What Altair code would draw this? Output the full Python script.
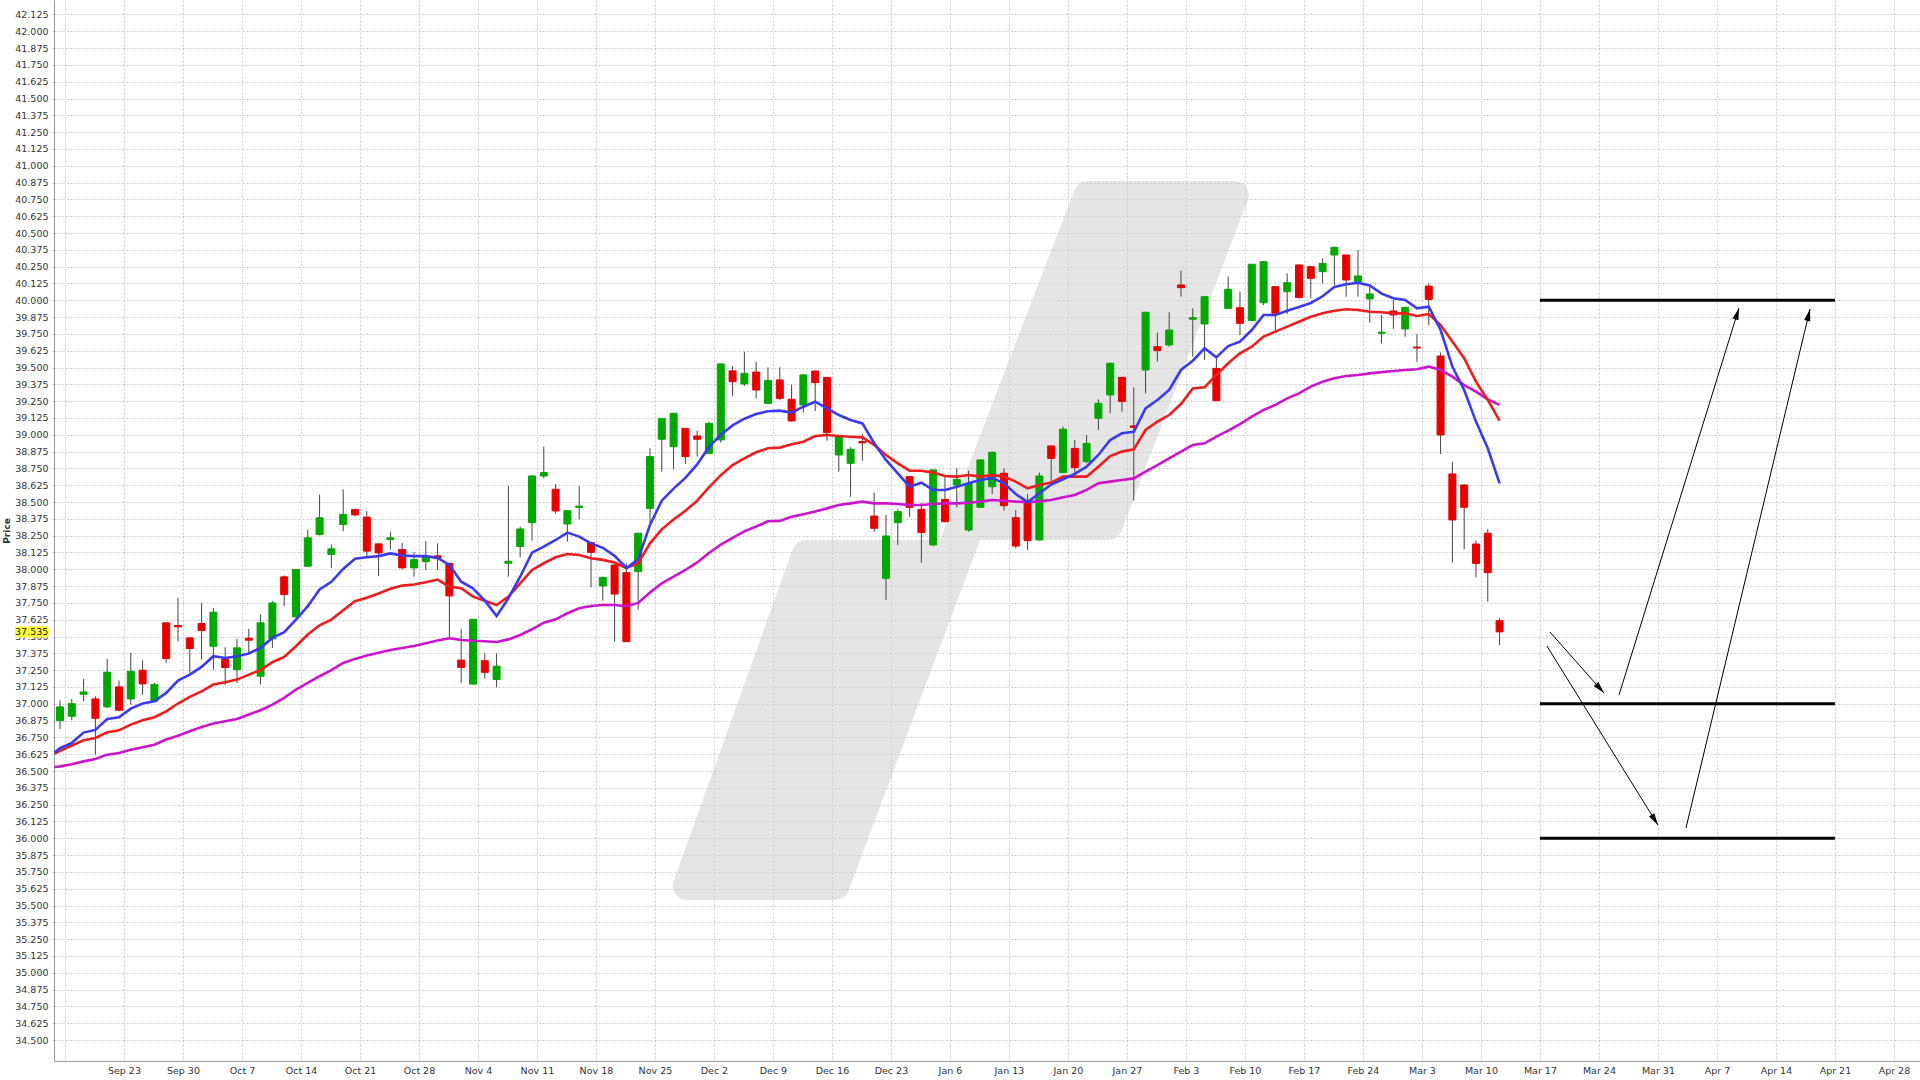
import math
import altair as alt
import pandas as pd

# ---------------- candles: one per trading day (slot 0..122) ----------------
opens = [36.875, 36.907, 37.071, 37.036, 36.977, 37.126, 37.036, 37.250, 37.019, 37.602,
         37.582, 37.490, 37.597, 37.428, 37.330, 37.254, 37.488, 37.205, 37.483, 37.944,
         37.646, 38.023, 38.259, 38.110, 38.333, 38.445, 38.388, 38.189, 38.222, 38.147,
         38.011, 38.057, 38.100, 38.044, 37.325, 37.147, 37.320, 37.181, 38.045, 38.169,
         38.347, 38.694, 38.595, 38.337, 38.460, 38.198, 37.876, 38.032, 37.975, 37.983,
         38.453, 38.967, 38.912, 39.048, 38.991, 38.862, 38.962, 39.475, 39.378, 39.467,
         39.234, 39.408, 39.264, 39.222, 39.474, 39.427, 38.850, 38.788, 38.950, 38.396,
         37.933, 38.347, 38.689, 38.446, 38.181, 38.520, 38.627, 38.292, 38.461, 38.614,
         38.714, 38.384, 38.495, 38.218, 38.917, 38.719, 38.899, 38.800, 39.123, 39.296,
         39.427, 39.066, 39.482, 39.655, 39.668, 40.114, 39.859, 39.824, 39.494, 39.940,
         39.945, 39.849, 39.982, 40.101, 40.064, 40.263, 40.250, 40.213, 40.337, 40.337,
         40.139, 40.010, 39.755, 39.921, 39.787, 39.652, 40.106, 39.586, 38.709, 38.627,
         38.188, 38.268, 37.618]
highs = [37.026, 37.036, 37.185, 37.056, 37.334, 37.173, 37.378, 37.324, 37.155, 37.602,
         37.788, 37.495, 37.750, 37.713, 37.420, 37.483, 37.557, 37.664, 37.763, 37.954,
         38.003, 38.296, 38.556, 38.184, 38.594, 38.450, 38.433, 38.190, 38.279, 38.197,
         38.127, 38.210, 38.193, 38.050, 37.554, 37.630, 37.376, 37.376, 38.620, 38.317,
         38.700, 38.912, 38.632, 38.440, 38.620, 38.200, 37.945, 38.040, 38.044, 38.270,
         38.900, 39.125, 39.160, 39.050, 39.031, 39.098, 39.530, 39.512, 39.618, 39.541,
         39.502, 39.502, 39.370, 39.452, 39.478, 39.430, 38.990, 38.907, 39.006, 38.570,
         38.404, 38.446, 38.690, 38.495, 38.740, 38.689, 38.751, 38.733, 38.815, 38.875,
         38.751, 38.441, 38.560, 38.719, 38.920, 39.061, 38.961, 38.999, 39.264, 39.535,
         39.430, 39.353, 39.915, 39.760, 39.911, 40.221, 39.940, 40.030, 39.576, 40.176,
         40.064, 40.270, 40.290, 40.105, 40.201, 40.265, 40.255, 40.312, 40.400, 40.340,
         40.374, 40.106, 39.891, 40.002, 39.950, 39.750, 40.126, 39.611, 38.800, 38.630,
         38.213, 38.297, 37.636]
lows = [36.813, 36.878, 37.019, 36.622, 36.969, 36.944, 36.994, 37.068, 37.014, 37.304,
        37.465, 37.230, 37.329, 37.254, 37.140, 37.155, 37.378, 37.143, 37.416, 37.726,
        37.646, 38.018, 38.251, 38.011, 38.284, 38.395, 38.098, 37.949, 38.147, 37.998,
        37.945, 37.995, 37.995, 37.494, 37.157, 37.145, 37.187, 37.122, 37.945, 38.089,
        38.213, 38.676, 38.416, 38.206, 38.372, 37.866, 37.767, 37.462, 37.460, 37.702,
        38.347, 38.726, 38.743, 38.783, 38.838, 38.860, 38.942, 39.289, 39.363, 39.271,
        39.229, 39.259, 39.098, 39.165, 39.177, 38.956, 38.726, 38.540, 38.808, 38.280,
        37.772, 38.181, 38.391, 38.049, 38.173, 38.350, 38.461, 38.280, 38.460, 38.560,
        38.436, 38.156, 38.144, 38.215, 38.652, 38.715, 38.689, 38.788, 39.036, 39.160,
        39.172, 38.510, 39.308, 39.544, 39.655, 40.027, 39.581, 39.556, 39.250, 39.937,
        39.742, 39.845, 39.965, 39.779, 39.898, 40.015, 40.015, 40.126, 40.114, 40.027,
        40.027, 39.834, 39.680, 39.787, 39.730, 39.544, 39.816, 38.857, 38.049, 38.149,
        37.940, 37.759, 37.437]
closes = [36.977, 37.001, 37.088, 36.892, 37.235, 36.952, 37.242, 37.148, 37.143, 37.336,
          37.572, 37.411, 37.545, 37.681, 37.270, 37.416, 37.473, 37.602, 37.750, 37.812,
          37.998, 38.234, 38.383, 38.152, 38.408, 38.405, 38.135, 38.122, 38.234, 38.011,
          38.072, 38.092, 38.080, 37.802, 37.271, 37.628, 37.234, 37.280, 38.060, 38.300,
          38.694, 38.719, 38.434, 38.436, 38.470, 38.126, 37.940, 37.816, 37.462, 38.268,
          38.838, 39.122, 39.160, 38.838, 38.967, 39.085, 39.527, 39.395, 39.457, 39.333,
          39.403, 39.271, 39.103, 39.445, 39.388, 39.016, 38.986, 38.892, 38.940, 38.305,
          38.248, 38.429, 38.461, 38.273, 38.739, 38.354, 38.669, 38.634, 38.813, 38.870,
          38.473, 38.173, 38.213, 38.694, 38.825, 39.041, 38.756, 38.936, 39.234, 39.532,
          39.247, 39.056, 39.911, 39.626, 39.779, 40.094, 39.871, 40.027, 39.254, 40.082,
          39.829, 40.268, 40.287, 39.903, 40.131, 40.020, 40.163, 40.275, 40.394, 40.151,
          40.181, 40.047, 39.763, 39.891, 39.948, 39.645, 40.007, 38.999, 38.367, 38.461,
          38.044, 37.975, 37.535]

# ---------------- moving averages ----------------
ma_slots = [-0.45] + list(range(123))
ma_fast = [36.64, 36.67, 36.71, 36.786, 36.806, 36.887, 36.900, 36.964, 37.002, 37.019, 37.081,
           37.173, 37.217, 37.274, 37.354, 37.341, 37.354, 37.374, 37.416, 37.490, 37.532,
           37.626, 37.726, 37.850, 37.907, 38.003, 38.078, 38.090, 38.098, 38.118, 38.103,
           38.098, 38.098, 38.085, 38.032, 37.908, 37.859, 37.767, 37.653, 37.784, 37.945,
           38.124, 38.168, 38.218, 38.273, 38.243, 38.193, 38.160, 38.100, 38.010, 38.075,
           38.330, 38.510, 38.600, 38.680, 38.780, 38.910, 39.000, 39.070, 39.120, 39.155,
           39.175, 39.180, 39.165, 39.209, 39.246, 39.197, 39.147, 39.110, 39.085, 38.937,
           38.813, 38.714, 38.614, 38.644, 38.590, 38.590, 38.614, 38.639, 38.664, 38.680,
           38.639, 38.560, 38.500, 38.565, 38.630, 38.670, 38.710, 38.763, 38.850, 38.961,
           39.011, 39.023, 39.197, 39.259, 39.333, 39.482, 39.551, 39.643, 39.576, 39.660,
           39.693, 39.779, 39.891, 39.891, 39.923, 39.950, 39.980, 40.030, 40.100, 40.120,
           40.130, 40.110, 40.050, 40.015, 40.002, 39.940, 39.953, 39.779, 39.507, 39.333,
           39.098, 38.900, 38.639]
ma_mid = [36.63, 36.65, 36.69, 36.729, 36.746, 36.788, 36.803, 36.845, 36.878, 36.900, 36.944,
          37.002, 37.051, 37.093, 37.143, 37.160, 37.180, 37.217, 37.250, 37.309, 37.349,
          37.428, 37.515, 37.584, 37.626, 37.696, 37.763, 37.788, 37.820, 37.855, 37.879,
          37.887, 37.904, 37.924, 37.871, 37.859, 37.797, 37.767, 37.735, 37.797, 37.896,
          37.995, 38.045, 38.089, 38.114, 38.107, 38.082, 38.070, 38.050, 38.010, 38.045,
          38.193, 38.297, 38.370, 38.435, 38.510, 38.610, 38.700, 38.775, 38.825, 38.870,
          38.900, 38.905, 38.930, 38.949, 38.991, 38.998, 38.991, 38.986, 38.981, 38.924,
          38.850, 38.788, 38.733, 38.733, 38.719, 38.694, 38.689, 38.701, 38.689, 38.700,
          38.689, 38.652, 38.602, 38.627, 38.645, 38.689, 38.690, 38.689, 38.763, 38.842,
          38.875, 38.892, 39.036, 39.098, 39.147, 39.229, 39.345, 39.353, 39.445, 39.532,
          39.606, 39.655, 39.730, 39.767, 39.804, 39.841, 39.878, 39.903, 39.923, 39.933,
          39.928, 39.915, 39.911, 39.903, 39.903, 39.883, 39.898, 39.816, 39.693, 39.569,
          39.395, 39.259, 39.105]
ma_slow = [36.53, 36.535, 36.55, 36.572, 36.590, 36.622, 36.634, 36.659, 36.677, 36.696, 36.734,
           36.763, 36.796, 36.828, 36.853, 36.870, 36.887, 36.920, 36.952, 36.994, 37.044,
           37.106, 37.155, 37.205, 37.250, 37.304, 37.334, 37.360, 37.380, 37.400, 37.415,
           37.430, 37.450, 37.470, 37.487, 37.474, 37.469, 37.465, 37.460, 37.479, 37.512,
           37.554, 37.603, 37.628, 37.673, 37.710, 37.727, 37.735, 37.735, 37.725, 37.750,
           37.828, 37.896, 37.945, 37.995, 38.051, 38.121, 38.183, 38.233, 38.282, 38.318,
           38.357, 38.360, 38.390, 38.410, 38.430, 38.453, 38.478, 38.490, 38.503, 38.490,
           38.490, 38.486, 38.478, 38.478, 38.486, 38.490, 38.490, 38.495, 38.503, 38.515,
           38.510, 38.503, 38.500, 38.505, 38.515, 38.535, 38.553, 38.590, 38.640, 38.652,
           38.664, 38.676, 38.726, 38.775, 38.825, 38.875, 38.924, 38.937, 38.986, 39.031,
           39.080, 39.135, 39.185, 39.222, 39.271, 39.308, 39.358, 39.395, 39.420, 39.437,
           39.445, 39.457, 39.466, 39.475, 39.482, 39.487, 39.507, 39.482, 39.432, 39.370,
           39.321, 39.264, 39.222]

# ---------------- axis ticks ----------------
week_labels = ["", "Sep 23", "Sep 30", "Oct 7", "Oct 14", "Oct 21", "Oct 28", "Nov 4",
               "Nov 11", "Nov 18", "Nov 25", "Dec 2", "Dec 9", "Dec 16", "Dec 23", "Jan 6",
               "Jan 13", "Jan 20", "Jan 27", "Feb 3", "Feb 10", "Feb 17", "Feb 24", "Mar 3",
               "Mar 10", "Mar 17", "Mar 24", "Mar 31", "Apr 7", "Apr 14", "Apr 21", "Apr 28"]
week_first_slot = 0.42
price_ticks = [round(34.5 + 0.125 * k, 3) for k in range(62)]
last_price = 37.535

# ---------------- drawn annotations on the right ----------------
level_prices = [40.0, 37.0, 36.0]
level_start = [125.42, 125.42, 125.42]
level_end = [150.42, 150.42, 150.42]
arrow_x0 = [126.27, 126.02, 132.12, 137.80]
arrow_y0 = [37.534, 37.429, 37.065, 36.077]
arrow_x1 = [130.85, 135.42, 142.29, 148.31]
arrow_y1 = [37.080, 36.099, 39.943, 39.935]

# ---------------- background watermark (two offset slanted bands) ----------------
wm_prices = [40.887, 38.218, 35.541]          # top, step, bottom
wm_upper = [86.27, 101.27, 74.58, 89.66]      # top-left, top-right, bottom-left, bottom-right
wm_lower = [62.37, 77.97, 51.44, 66.53]

# ---------------- layout ----------------
W, H = 1866, 1061
X_DOM = [-0.508, 157.63]
Y_DOM = [34.3443, 42.2328]
PX_X = W / (X_DOM[1] - X_DOM[0])
PX_Y = H / (Y_DOM[1] - Y_DOM[0])
FONT = "DejaVu Sans"
GRID = "#c8c8c8"

x_scale = alt.Scale(domain=X_DOM, nice=False, zero=False, padding=0)
y_scale = alt.Scale(domain=Y_DOM, nice=False, zero=False, padding=0)

x_ticks = [week_first_slot + 5 * k for k in range(len(week_labels))]
label_expr = ("[" + ",".join("'%s'" % s for s in week_labels) + "]"
              "[round((datum.value - %s) / 5)]" % week_first_slot)

x_axis = alt.Axis(values=x_ticks, labelExpr=label_expr, title=None, grid=True,
                  gridColor=GRID, gridDash=[2, 2], gridWidth=1, domainColor="#9a9a9a",
                  tickSize=0, labelPadding=4, labelFont=FONT, labelFontSize=9.5,
                  labelColor="#333333", labelFlush=False, labelOverlap=False)
y_axis = alt.Axis(values=price_ticks, format=".3f", title="Price", grid=True,
                  gridColor=GRID, gridDash=[2, 2], gridWidth=1, domainColor="#9a9a9a",
                  tickSize=4, tickColor=GRID, tickDash=[2, 2], labelPadding=2,
                  labelFont=FONT, labelFontSize=9.5, labelColor="#333333",
                  labelOverlap=False, titleFont=FONT, titleFontSize=9,
                  titleFontWeight="bold", titleColor="#333333", titlePadding=3)


def X(f):
    return alt.X(f, type="quantitative", scale=x_scale, axis=x_axis)


def Y(f):
    return alt.Y(f, type="quantitative", scale=y_scale, axis=y_axis)


# candles
cdf = pd.DataFrame({"slot": list(range(len(opens))), "open": opens, "high": highs,
                    "low": lows, "close": closes})
up = cdf[cdf["close"] >= cdf["open"]]
dn = cdf[cdf["close"] < cdf["open"]]
GREEN, RED = "#00a800", "#e60000"

wicks = alt.Chart(cdf).mark_rule(color="#444444", strokeWidth=1).encode(
    x=X("slot"), y=Y("low"), y2="high")
bodies_up = alt.Chart(up).mark_bar(size=7, color=GREEN, stroke=GREEN, strokeWidth=1).encode(
    x=X("slot"), y=Y("open"), y2="close")
bodies_dn = alt.Chart(dn).mark_bar(size=7, color=RED, stroke=RED, strokeWidth=1).encode(
    x=X("slot"), y=Y("open"), y2="close")


def ma_layer(vals, color):
    d = pd.DataFrame({"slot": ma_slots, "val": vals})
    return alt.Chart(d).mark_line(color=color, strokeWidth=2.6).encode(
        x=X("slot"), y=Y("val"), order="slot:Q")


ma_s = ma_layer(ma_slow, "#cc14cc")
ma_m = ma_layer(ma_mid, "#ee1d1d")
ma_f = ma_layer(ma_fast, "#3a3aef")

# watermark polygon with rounded corners (inset + round-joined stroke)
R = 14.0
px = lambda s: (s - X_DOM[0]) * PX_X
py = lambda p: (Y_DOM[1] - p) * PX_Y
ys = [py(p) for p in wm_prices]


def edge(xa, ya, xb, yb, sign):
    s = (xb - xa) / (yb - ya)
    d = sign * R * math.sqrt(1 + s * s)
    return lambda y: xa + s * (y - ya) + d


ul = edge(px(wm_upper[0]), ys[0], px(wm_upper[2]), ys[1], 1)
ur = edge(px(wm_upper[1]), ys[0], px(wm_upper[3]), ys[1], -1)
ll = edge(px(wm_lower[0]), ys[1], px(wm_lower[2]), ys[2], 1)
lr = edge(px(wm_lower[1]), ys[1], px(wm_lower[3]), ys[2], -1)
e = 0.01
rows = [(ys[0] + R, ul, ur), (ys[1] - R - e, ul, ur), (ys[1] - R + e, ul, lr),
        (ys[1] + R - e, ul, lr), (ys[1] + R + e, ll, lr), (ys[2] - R, ll, lr)]
wm_rows = []
for yy, fl, fr in rows:
    a, b = fl(yy), fr(yy)
    if a > b:
        a = b = (a + b) / 2
    wm_rows.append({"p": Y_DOM[1] - yy / PX_Y, "a": X_DOM[0] + a / PX_X,
                    "b": X_DOM[0] + b / PX_X})
wm_df = pd.DataFrame(wm_rows)
WM = "#cdcdcd"
watermark = alt.Chart(wm_df).mark_area(
    orient="horizontal", color=WM, stroke=WM, strokeWidth=2 * R, strokeJoin="round",
    opacity=0.5, interpolate="linear").encode(
    y=Y("p"), x=alt.X("a", type="quantitative", scale=x_scale, axis=x_axis, stack=None),
    x2="b")

# levels and arrows
lev_df = pd.DataFrame({"p": level_prices, "x0": level_start, "x1": level_end})
levels = alt.Chart(lev_df).mark_rule(color="black", strokeWidth=3).encode(
    x=X("x0"), x2="x1", y=Y("p"))

arr_df = pd.DataFrame({"x0": arrow_x0, "y0": arrow_y0, "x1": arrow_x1, "y1": arrow_y1})
arr_df["ang"] = [
    math.degrees(math.atan2((b - a) * PX_X, (d - c) * PX_Y)) % 360
    for a, b, c, d in zip(arrow_x0, arrow_x1, arrow_y0, arrow_y1)]
arrows = alt.Chart(arr_df).mark_rule(color="black", strokeWidth=1).encode(
    x=X("x0"), y=Y("y0"), x2="x1", y2="y1")
HEAD = "M0,0L-0.62,2.4L0.62,2.4Z"
heads = alt.Chart(arr_df).mark_point(shape=HEAD, size=100, filled=True, color="black",
                                     opacity=1, strokeWidth=0).encode(
    x=X("x1"), y=Y("y1"), angle=alt.Angle("ang:Q", scale=None))

# highlighted last price on the axis
tag_df = pd.DataFrame({"p": [last_price], "t": ["%.3f" % last_price]})
TAG = "M-1,-0.32L0.86,-0.32L1,0L0.86,0.32L-1,0.32Z"
tag = alt.Chart(tag_df).mark_point(shape=TAG, size=1225, filled=True, color="#ffff3c",
                                   opacity=1, strokeWidth=0).encode(
    x=alt.value(-21.5), y=Y("p"))
tag_text = alt.Chart(tag_df).mark_text(align="right", baseline="middle", font=FONT,
                                       fontSize=9.5, color="#222222").encode(
    x=alt.value(-5.7), y=Y("p"), text="t:N")

chart = alt.layer(watermark, wicks, bodies_up, bodies_dn, ma_s, ma_m, ma_f, levels,
                  arrows, heads, tag, tag_text).properties(
    width=W, height=H, autosize=alt.AutoSizeParams(type="none"),
    padding={"left": 54, "top": 0, "right": 0, "bottom": 19},
    background="white").configure_view(stroke=None)

chart.save("out.html", embed_options={"renderer": "svg", "actions": False})
